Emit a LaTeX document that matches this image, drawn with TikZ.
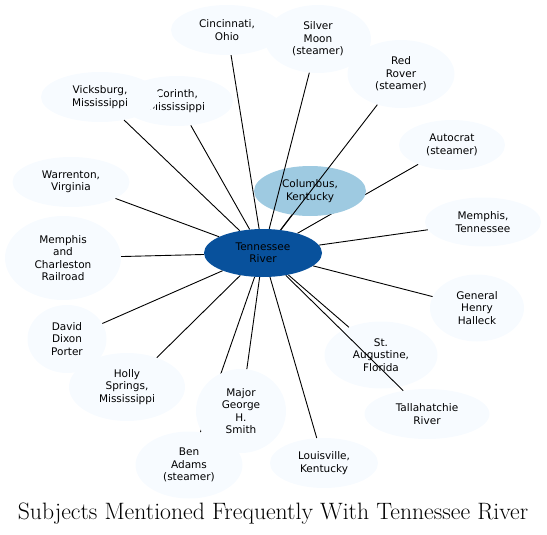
\documentclass[tikz,border=0pt]{standalone}
\usepackage{fontspec}
\newfontfamily\nodefont{DejaVu Sans}
\usetikzlibrary{shapes.geometric}
\definecolor{dark}{HTML}{08519C}
\definecolor{mid}{HTML}{9ECAE1}
\definecolor{pale}{HTML}{F7FBFF}
\tikzset{
  bub/.style={ellipse, fill=pale, inner sep=0pt, align=center,
    font=\nodefont\fontsize{10.5}{12.4}\selectfont},
  link/.style={draw=black, line width=0.9pt},
}
\begin{document}
\begin{tikzpicture}[x=1pt,y=-1pt]
\useasboundingbox (0,0) rectangle (547,535);
% pale nodes
\node[bub, minimum width=112pt, minimum height=50pt] (cor) at (177,101) {Corinth,\\Mississippi};
\node[bub, minimum width=118pt, minimum height=50pt] (vic) at (100,97) {Vicksburg,\\Mississippi};
\node[bub, minimum width=112pt, minimum height=50pt] (cin) at (227,30) {Cincinnati,\\Ohio};
\node[bub, minimum width=106pt, minimum height=68pt] (sil) at (318,39) {Silver\\Moon\\(steamer)};
\node[bub, minimum width=107pt, minimum height=68pt] (red) at (401,74) {Red\\Rover\\(steamer)};
\node[bub, minimum width=106pt, minimum height=50pt] (aut) at (452,145) {Autocrat\\(steamer)};
\node[bub, minimum width=116pt, minimum height=49pt] (mem) at (483,222) {Memphis,\\Tennessee};
\node[bub, minimum width=94pt, minimum height=67pt] (hal) at (477,308) {General\\Henry\\Halleck};
\node[bub, minimum width=113pt, minimum height=67pt] (aug) at (381,355) {St.\\Augustine,\\Florida};
\node[bub, minimum width=125pt, minimum height=50pt] (tal) at (427,414) {Tallahatchie\\River};
\node[bub, minimum width=108pt, minimum height=50pt] (lou) at (324,463) {Louisville,\\Kentucky};
\node[bub, minimum width=107pt, minimum height=67pt] (ben) at (189,465) {Ben\\Adams\\(steamer)};
\node[bub, minimum width=116pt, minimum height=68pt] (hol) at (127,387) {Holly\\Springs,\\Mississippi};
\node[bub, minimum width=79pt, minimum height=68pt] (dav) at (67,339) {David\\Dixon\\Porter};
\node[bub, minimum width=116pt, minimum height=84pt] (mcr) at (63,258) {Memphis\\and\\Charleston\\Railroad};
\node[bub, minimum width=117pt, minimum height=50pt] (war) at (71,182) {Warrenton,\\Virginia};
% center node placeholder for clipping
\node[ellipse, inner sep=0pt, minimum width=118pt, minimum height=48pt] (T) at (263,253) {};
% edges hidden under later nodes
\draw[link] (T) -- (aut);
\draw[link] (T) -- (ben);
\node[bub, fill=mid, minimum width=112pt, minimum height=50pt] (col) at (310,191) {Columbus,\\Kentucky};
\node[bub, minimum width=90pt, minimum height=84pt] (maj) at (241,411) {Major\\George\\H.\\Smith};
% remaining edges
\foreach \n in {col,cin,sil,red,mem,hal,aug,tal,lou,maj,hol,dav,mcr,war,vic,cor}
  \draw[link] (T) -- (\n);
% center node
\node[bub, fill=dark, minimum width=118pt, minimum height=48pt] (Tc) at (263,253) {Tennessee\\River};
% title
\node[anchor=base, inner sep=0pt, font=\fontsize{23.7}{28}\selectfont] (title) at (273,519) {Subjects Mentioned Frequently With Tennessee River};
\end{tikzpicture}
\end{document}
